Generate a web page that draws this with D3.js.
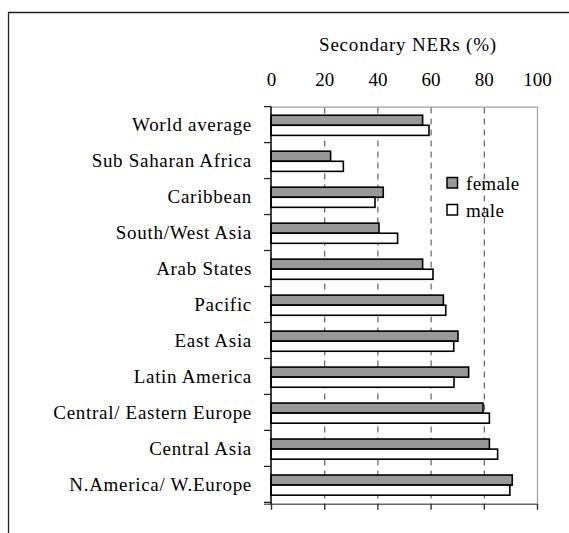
<!DOCTYPE html>
<html>
<head>
<meta charset="utf-8">
<script src="https://cdn.jsdelivr.net/npm/d3@7"></script>
<style>
  html, body { margin: 0; padding: 0; background: #fff; }
  svg text { font-family: "Liberation Serif"; fill: #000; }
</style>
</head>
<body>
<svg id="chart" width="569" height="533"></svg>
<script>
// Secondary net enrolment ratios by region, female vs male
const regions = [
  "World average", "Sub Saharan Africa", "Caribbean", "South/West Asia",
  "Arab States", "Pacific", "East Asia", "Latin America",
  "Central/ Eastern Europe", "Central Asia", "N.America/ W.Europe"
];
const female = [57.0, 22.4, 42.2, 40.6, 57.0, 64.8, 70.3, 74.3, 79.7, 82.1, 90.7];
const male   = [59.4, 27.2, 39.1, 47.6, 60.9, 65.7, 68.7, 68.8, 82.1, 85.2, 89.8];
const seriesNames = ["female", "male"];
const seriesFill = ["#999999", "#ffffff"];
const xTicks = [0, 20, 40, 60, 80, 100];
const axisTitle = "Secondary NERs (%)";

const svg = d3.select("#chart");

// outer frame (top and left edges visible)
svg.append("path")
  .attr("d", "M8.5,533 L8.5,12.5 L569,12.5")
  .attr("fill", "none").attr("stroke", "#222").attr("stroke-width", 1.3);

const x = d3.scaleLinear().domain([0, 100]).range([271, 537]);
const y = d3.scaleBand().domain(regions).range([106.6, 503.8]).paddingInner(0.44).paddingOuter(0.24);
const ySub = d3.scaleBand().domain(seriesNames).range([0, y.bandwidth()]);
const step = y.step();
const plotTop = y.range()[0], plotBottom = y.range()[1];

// plot-area border: top and right in light grey
svg.append("path")
  .attr("d", `M${x(0)},${plotTop + 0.5} L${x(100) + 0.5},${plotTop + 0.5} L${x(100) + 0.5},${plotBottom}`)
  .attr("fill", "none").attr("stroke", "#a0a0a0").attr("stroke-width", 1.2);

// dashed vertical gridlines
svg.append("g").selectAll("line")
  .data(xTicks.filter(t => t > 0 && t < 100))
  .join("line")
  .attr("x1", d => x(d) + 0.5).attr("x2", d => x(d) + 0.5)
  .attr("y1", plotTop + 1).attr("y2", plotBottom)
  .attr("stroke", "#555").attr("stroke-width", 1.1)
  .attr("stroke-dasharray", "6,5");

// bars
const groups = svg.append("g").selectAll("g")
  .data(regions.map((r, i) => ({ region: r, values: [female[i], male[i]] })))
  .join("g")
  .attr("transform", d => `translate(0,${y(d.region)})`);

groups.selectAll("rect")
  .data(d => d.values.map((v, k) => ({ v, k })))
  .join("rect")
  .attr("x", x(0))
  .attr("y", d => ySub(seriesNames[d.k]))
  .attr("width", d => x(d.v) - x(0))
  .attr("height", ySub.bandwidth())
  .attr("fill", d => seriesFill[d.k])
  .attr("stroke", "#000").attr("stroke-width", 1.6);

// bottom axis line with downward ticks
const xAxisBottom = d3.axisBottom(x).tickValues(xTicks).tickSize(6).tickFormat("");
const gb = svg.append("g").attr("transform", `translate(0,${plotBottom})`).call(xAxisBottom);
gb.select(".domain").attr("stroke", "#666").attr("stroke-width", 1.4)
  .attr("d", `M${x(0) - 7},0.5H${x(100)}`);
gb.selectAll(".tick line").attr("stroke", "#333").attr("stroke-width", 1.4);

// top tick labels
const xAxisTop = d3.axisTop(x).tickValues(xTicks).tickSize(0).tickPadding(0).tickFormat(d3.format("d"));
const gt = svg.append("g").attr("transform", "translate(0,86)").call(xAxisTop);
gt.select(".domain").remove();
gt.selectAll("text")
  .style("font-family", '"Liberation Serif"').style("font-size", "19px")
  .attr("fill", "#000").attr("dy", 0);

// left category axis: line with boundary ticks
svg.append("line")
  .attr("x1", x(0)).attr("x2", x(0)).attr("y1", plotTop).attr("y2", plotBottom + 0.5)
  .attr("stroke", "#000").attr("stroke-width", 1.5);
svg.append("g").selectAll("line")
  .data(d3.range(regions.length + 1))
  .join("line")
  .attr("x1", x(0) - 7).attr("x2", x(0))
  .attr("y1", i => plotTop + i * step).attr("y2", i => plotTop + i * step)
  .attr("stroke", "#222").attr("stroke-width", 1.3);

// category labels
svg.append("g").selectAll("text")
  .data(regions)
  .join("text")
  .attr("x", 252)
  .attr("y", d => y(d) + y.bandwidth() / 2 + 6)
  .attr("text-anchor", "end")
  .style("font-family", '"Liberation Serif"')
  .style("font-size", "19px")
  .style("letter-spacing", "0.7px")
  .text(d => d);

// axis title
svg.append("text")
  .attr("x", 408).attr("y", 51)
  .attr("text-anchor", "middle")
  .style("font-family", '"Liberation Serif"')
  .style("font-size", "19px")
  .style("letter-spacing", "0.8px")
  .text(axisTitle);

// legend
const legend = svg.append("g").selectAll("g")
  .data(seriesNames)
  .join("g")
  .attr("transform", (d, i) => `translate(447,${177.5 + i * 27})`);
legend.append("rect")
  .attr("width", 10.5).attr("height", 10.5)
  .attr("fill", (d, i) => seriesFill[i])
  .attr("stroke", "#000").attr("stroke-width", 1.5);
legend.append("text")
  .attr("x", 19).attr("y", 12.5)
  .style("font-family", '"Liberation Serif"')
  .style("font-size", "19px")
  .style("letter-spacing", "0.3px")
  .text(d => d);
</script>
</body>
</html>
